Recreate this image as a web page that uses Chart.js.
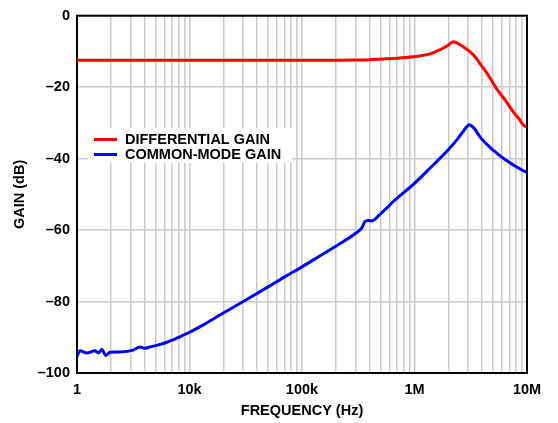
<!DOCTYPE html>
<html>
<head>
<meta charset="utf-8">
<script src="https://cdn.jsdelivr.net/npm/chart.js@4.4.0/dist/chart.umd.min.js"></script>
<style>
  html, body { margin: 0; padding: 0; background: #fff; }
</style>
</head>
<body>
<canvas id="chart" width="558" height="423"></canvas>
<script>
// series (frequency in Hz, gain in dB)
const diffFreq = [1e3, 1e4, 1e5, 2e5, 3e5, 4e5, 5e5, 7e5, 9.7e5, 1.37e6, 1.69e6, 1.96e6, 2.21e6, 2.5e6, 2.91e6, 3.4e6, 3.82e6, 4.5e6, 5.38e6, 6.4e6, 7.55e6, 8.5e6, 9.27e6, 1e7];
const diffGain = [-12.5, -12.5, -12.5, -12.5, -12.4, -12.3, -12.1, -11.9, -11.5, -10.7, -9.5, -8.4, -7.3, -8.0, -9.4, -11.2, -13.4, -16.5, -20.5, -23.6, -26.9, -28.9, -30.6, -31.3];

const cmFreq = [1e3, 1.063e3, 1.22e3, 1.445e3, 1.55e3, 1.66e3, 1.81e3, 1.96e3, 2.41e3, 3.16e3, 3.63e3, 4.02e3, 4.46e3, 5.2e3, 6.27e3, 8e3, 10e3, 14e3, 20e3, 30e3, 50e3, 70e3, 100e3, 150e3, 200e3, 300e3, 340e3, 363e3, 386e3, 417e3, 493e3, 558e3, 649e3, 970e3, 1.37e6, 1.93e6, 2.4e6, 2.71e6, 3.07e6, 3.45e6, 3.82e6, 5.0e6, 6.77e6, 9.27e6, 1e7];
const cmGain = [-95.3, -93.8, -94.4, -93.8, -94.4, -93.4, -95.1, -94.2, -94.1, -93.6, -92.7, -93.1, -92.7, -92.2, -91.4, -90.0, -88.6, -86.1, -83.2, -80.0, -75.9, -73.1, -70.3, -66.9, -64.5, -60.9, -59.4, -57.6, -57.3, -57.4, -55.6, -54.0, -52.0, -47.3, -42.7, -38.0, -34.6, -32.4, -30.5, -31.8, -33.9, -37.6, -40.8, -43.4, -43.9];

const seriesLabels = ['DIFFERENTIAL GAIN', 'COMMON-MODE GAIN'];
const seriesColors = ['#ff0000', '#0000ff'];

// axis ticks
const xMajorTicks = [1e3, 1e4, 1e5, 1e6, 1e7];
const xMajorLabels = ['1', '10k', '100k', '1M', '10M'];
const yMin = -100, yMax = 0, yStep = 20;

const gridColor = '#cacaca';
const fontFamily = "'Liberation Sans', Arial, sans-serif";
const font = { family: fontFamily, size: 14.5, weight: 'bold' };

// gridlines at 1..9 of each decade
const xGrid = [];
for (let d = 0; d < xMajorTicks.length - 1; d++) {
  for (let k = 1; k <= 9; k++) xGrid.push(Math.round(k * xMajorTicks[d]));
}
xGrid.push(xMajorTicks[xMajorTicks.length - 1]);

const toPoints = (xs, ys) => xs.map((x, i) => ({ x: x, y: ys[i] }));

// black frame round the plot area
const framePlugin = {
  id: 'frame',
  beforeDatasetsDraw(chart) {
    const { ctx, chartArea: a } = chart;
    ctx.save();
    ctx.strokeStyle = '#000';
    ctx.lineWidth = 2;
    ctx.strokeRect(a.left, a.top, a.right - a.left, a.bottom - a.top);
    ctx.restore();
  }
};

// legend inside the plot, on a white box
const insideLegend = {
  id: 'insideLegend',
  afterDraw(chart) {
    const ctx = chart.ctx;
    ctx.save();
    ctx.fillStyle = '#fff';
    ctx.fillRect(88, 128, 204, 35);
    ctx.font = 'bold 14.5px ' + fontFamily;
    ctx.textBaseline = 'middle';
    ctx.textAlign = 'left';
    chart.data.datasets.forEach((ds, i) => {
      const y = 139.5 + i * 15;
      ctx.strokeStyle = ds.borderColor;
      ctx.lineWidth = 3;
      ctx.beginPath();
      ctx.moveTo(94, y);
      ctx.lineTo(117, y);
      ctx.stroke();
      ctx.fillStyle = '#000';
      ctx.fillText(ds.label, 125, y + 0.5);
    });
    ctx.restore();
  }
};

new Chart(document.getElementById('chart'), {
  type: 'line',
  data: {
    datasets: [
      {
        label: seriesLabels[0],
        data: toPoints(diffFreq, diffGain),
        borderColor: seriesColors[0],
        borderWidth: 3,
        pointRadius: 0,
        cubicInterpolationMode: 'monotone',
        fill: false
      },
      {
        label: seriesLabels[1],
        data: toPoints(cmFreq, cmGain),
        borderColor: seriesColors[1],
        borderWidth: 3,
        pointRadius: 0,
        cubicInterpolationMode: 'monotone',
        fill: false
      }
    ]
  },
  options: {
    responsive: false,
    animation: false,
    layout: { padding: { top: 13, right: 31, left: 0, bottom: 0 } },
    plugins: {
      legend: { display: false },
      tooltip: { enabled: false }
    },
    scales: {
      x: {
        type: 'logarithmic',
        min: xMajorTicks[0],
        max: xMajorTicks[xMajorTicks.length - 1],
        afterBuildTicks: (s) => { s.ticks = xGrid.map(v => ({ value: v })); },
        afterFit: (s) => { s.height = 50; },
        ticks: {
          autoSkip: false,
          maxRotation: 0,
          padding: 8,
          color: '#000',
          font: font,
          callback: (v) => {
            const i = xMajorTicks.indexOf(v);
            return i >= 0 ? xMajorLabels[i] : '';
          }
        },
        grid: { color: gridColor, lineWidth: 1.5, drawTicks: false },
        border: { display: false },
        title: {
          display: true,
          text: 'FREQUENCY (Hz)',
          color: '#000',
          font: font,
          padding: { top: 0, bottom: 3 }
        }
      },
      y: {
        min: yMin,
        max: yMax,
        afterFit: (s) => { s.width = 77; },
        ticks: {
          stepSize: yStep,
          padding: 7,
          color: '#000',
          font: font,
          callback: (v) => (v < 0 ? '\u2013' + (-v) : String(v))
        },
        grid: { color: gridColor, lineWidth: 1.5, drawTicks: false },
        border: { display: false },
        title: {
          display: true,
          text: 'GAIN (dB)',
          color: '#000',
          font: font,
          padding: { top: 11, bottom: 0 }
        }
      }
    }
  },
  plugins: [framePlugin, insideLegend]
});
</script>
</body>
</html>
